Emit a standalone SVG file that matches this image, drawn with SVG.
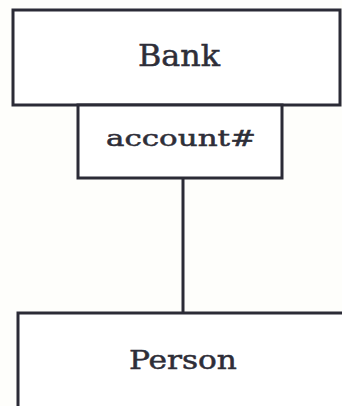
<svg xmlns="http://www.w3.org/2000/svg" width="342" height="406" viewBox="0 0 342 406">
  <style>
    .box { fill: #ffffff; stroke: #2b2b36; stroke-width: 3; }
    .lbl { font-family: "DejaVu Serif", "Liberation Serif", serif; fill: #2e2e38; stroke: #2e2e38; stroke-width: 0.5; text-anchor: middle; }
    .conn { stroke: #2b2b36; stroke-width: 3; fill: none; }
  </style>
  <rect x="0" y="0" width="342" height="406" fill="#fefefb"/>
  <g id="connectors">
    <line class="conn" x1="183" y1="178" x2="183" y2="313"/>
  </g>
  <g id="bank">
    <rect class="box" x="13" y="10" width="327" height="95"/>
    <text class="lbl" x="179" y="66" font-size="29" textLength="82" lengthAdjust="spacingAndGlyphs">Bank</text>
  </g>
  <g id="account">
    <rect class="box" x="78" y="105" width="204" height="73"/>
    <text class="lbl" x="181" y="146" font-size="23" textLength="150" lengthAdjust="spacingAndGlyphs">account#</text>
  </g>
  <g id="person">
    <rect class="box" x="18" y="313" width="340" height="120"/>
    <text class="lbl" x="183" y="369" font-size="26" textLength="108" lengthAdjust="spacingAndGlyphs">Person</text>
  </g>
</svg>
